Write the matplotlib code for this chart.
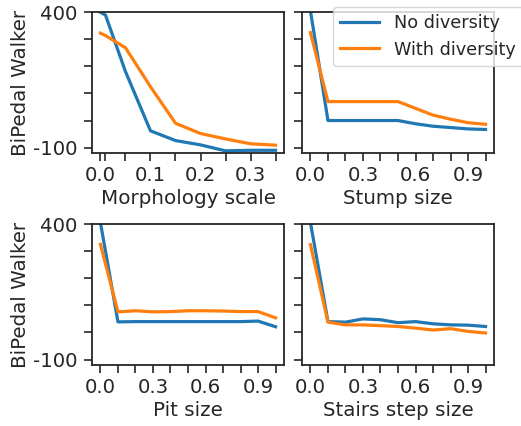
import matplotlib
matplotlib.use("Agg")
import matplotlib.pyplot as plt

# ---------------- data ----------------
morph_x = [0.0, 0.01, 0.05, 0.1, 0.15, 0.2, 0.25, 0.3, 0.35]
morph_no = [400, 390, 181, -38, -74, -90, -112, -110, -110]
morph_with = [323, 314, 269, 125, -10, -48, -68, -86, -91]

size_x = [0.0, 0.1, 0.2, 0.3, 0.4, 0.5, 0.6, 0.7, 0.8, 0.9, 1.0]
stump_no = [405, 0, 0, 0, 0, 0, -12, -21, -26, -31, -33]
stump_with = [325, 70, 70, 70, 70, 70, 45, 20, 5, -8, -14]

pit_no = [405, 39, 40, 40, 40, 40, 40, 40, 40, 42, 21]
pit_with = [325, 76, 80, 76, 77, 80, 80, 79, 77, 77, 54]

stairs_no = [405, 40, 38, 50, 47, 36, 40, 32, 28, 27, 22]
stairs_with = [324, 38, 28, 28, 25, 22, 16, 9, 14, 4, -2]

series_names = ["No diversity", "With diversity"]
row_label = "BiPedal Walker"
x_labels = ["Morphology scale", "Stump size", "Pit size", "Stairs step size"]
morph_ticklabels = {0.0: "0.0", 0.1: "0.1", 0.2: "0.2", 0.3: "0.3"}
size_ticklabels = {0.0: "0.0", 0.3: "0.3", 0.6: "0.6", 0.9: "0.9"}
y_ticks = [-100, 0, 100, 200, 300, 400]
y_ticklabels = ["-100", "", "", "", "", "400"]

# ---------------- style ----------------
dark = "#262626"
plt.rcParams.update({
    "font.family": ["DejaVu Sans"],
    "axes.edgecolor": dark,
    "axes.linewidth": 1.3,
    "xtick.color": dark,
    "ytick.color": dark,
    "xtick.major.size": 6.0,
    "ytick.major.size": 6.0,
    "xtick.major.width": 1.2,
    "ytick.major.width": 1.2,
    "xtick.labelsize": 14.2,
    "ytick.labelsize": 14.2,
    "axes.labelsize": 14.3,
    "axes.labelcolor": dark,
    "text.color": dark,
})
blue = "#1f77b4"
orange = "#ff7f0e"

fig = plt.figure(figsize=(5.21, 4.26), dpi=100)
W, H = 521, 426
cols = [(91.7, 284.3), (301.7, 494.3)]
rows = [(12.3, 153.0), (224.0, 365.0)]

panels = [
    (morph_x, morph_no, morph_with, morph_ticklabels),
    (size_x, stump_no, stump_with, size_ticklabels),
    (size_x, pit_no, pit_with, size_ticklabels),
    (size_x, stairs_no, stairs_with, size_ticklabels),
]

axes = []
for i, (xs, yno, ywith, tl) in enumerate(panels):
    r, c = divmod(i, 2)
    x0, x1 = cols[c]
    y0, y1 = rows[r]
    ax = fig.add_axes([x0 / W, 1 - y1 / H, (x1 - x0) / W, (y1 - y0) / H])
    ax.plot(xs, yno, color=blue, lw=2.3, label=series_names[0])
    ax.plot(xs, ywith, color=orange, lw=2.3, label=series_names[1])
    ax.set_ylim(-120, 400)
    ax.set_yticks(y_ticks)
    if c == 0:
        ax.set_yticklabels(y_ticklabels)
        ax.set_ylabel(row_label, labelpad=2.5)
    else:
        ax.set_yticklabels([""] * len(y_ticks))
    ax.set_xticks(xs)
    ax.set_xticklabels([tl.get(round(v, 2), "") for v in xs])
    ax.set_xlabel(x_labels[i], labelpad=3)
    ax.tick_params(axis="y", pad=4)
    ax.tick_params(axis="x", pad=3.5)
    axes.append(ax)

leg = axes[1].legend(loc="upper left", bbox_to_anchor=(0.164, 1.04),
                     borderaxespad=0, fontsize=12.7, framealpha=0.8,
                     edgecolor="#cccccc", handlelength=2.2,
                     handletextpad=0.85)
leg.get_frame().set_linewidth(1.0)

fig.savefig("out.png", dpi=100)
